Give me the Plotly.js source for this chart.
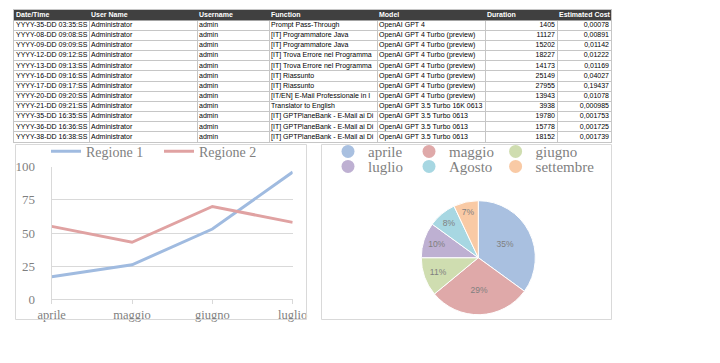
<!DOCTYPE html>
<html><head><meta charset="utf-8">
<script src="https://cdn.plot.ly/plotly-3.0.1.min.js"></script>
<style>html,body{margin:0;padding:0;background:#fff}#chart{width:720px;height:363px}</style>
</head><body><div id="chart"></div>
<script>
// ---------- table data ----------
const tableHeaders = ["Date/Time","User Name","Username","Function","Model","Duration","Estimated Cost"];
const dateTimes = ["YYYY-35-DD 03:35:SS","YYYY-08-DD 09:08:SS","YYYY-09-DD 09:09:SS","YYYY-12-DD 09:12:SS","YYYY-13-DD 09:13:SS","YYYY-16-DD 09:16:SS","YYYY-17-DD 09:17:SS","YYYY-20-DD 09:20:SS","YYYY-21-DD 09:21:SS","YYYY-35-DD 16:35:SS","YYYY-36-DD 16:36:SS","YYYY-38-DD 16:38:SS"];
const userNames = ["Administrator","Administrator","Administrator","Administrator","Administrator","Administrator","Administrator","Administrator","Administrator","Administrator","Administrator","Administrator"];
const usernames = ["admin","admin","admin","admin","admin","admin","admin","admin","admin","admin","admin","admin"];
const functionsCol = ["Prompt Pass-Through","[IT] Programmatore Java","[IT] Programmatore Java","[IT] Trova Errore nel Programma","[IT] Trova Errore nel Programma","[IT] Riassunto","[IT] Riassunto","[IT/EN] E-Mail Professionale in I","Translator to English","[IT] GPTPlaneBank - E-Mail ai Di","[IT] GPTPlaneBank - E-Mail ai Di","[IT] GPTPlaneBank - E-Mail ai Di"];
const models = ["OpenAI GPT 4","OpenAI GPT 4 Turbo (preview)","OpenAI GPT 4 Turbo (preview)","OpenAI GPT 4 Turbo (preview)","OpenAI GPT 4 Turbo (preview)","OpenAI GPT 4 Turbo (preview)","OpenAI GPT 4 Turbo (preview)","OpenAI GPT 4 Turbo (preview)","OpenAI GPT 3.5 Turbo 16K 0613","OpenAI GPT 3.5 Turbo 0613","OpenAI GPT 3.5 Turbo 0613","OpenAI GPT 3.5 Turbo 0613"];
const durations = [1405,11127,15202,18227,14173,25149,27955,13943,3938,19780,15778,18152];
const costs = [0.00078,0.00891,0.01142,0.01222,0.01169,0.04027,0.19437,0.01078,0.000985,0.001753,0.001725,0.001739];

// ---------- line chart data ----------
const months = ["aprile","maggio","giugno","luglio"];
const regione1 = [17,26,53,96];
const regione2 = [55,43,70,58];
const lineNames = ["Regione 1","Regione 2"];

// ---------- pie data ----------
const pieLabels = ["aprile","maggio","giugno","luglio","Agosto","settembre"];
const pieValues = [35,29,11,10,8,7];

// ---------- styles / layout helpers ----------
const W = 720, H = 363;
const px = v => v / W, py = v => 1 - v / H;
const colEdges = [14,89,197,269,377,485,557,611];
const rightAligned = [false,false,false,false,false,true,true];
const lineColors = ["#a0bbe0","#e0a2a2"];
const pieColors = ["#a9c0e0","#dfa9a9","#cfddb0","#beb0d2","#a7d7e2","#f9caa5"];
const sans = '"Liberation Sans", Arial, sans-serif';
const serif = '"Liberation Serif", "Times New Roman", serif';
const grey = '#7f7f7f';

const traces = [];
const rowIdx = dateTimes.map((_, i) => i + 1);
const columns = [dateTimes, userNames, usernames, functionsCol, models,
  durations.map(String), costs.map(v => String(v).replace('.', ','))];
columns.forEach((col, c) => {
  const ra = rightAligned[c];
  traces.push({
    type: 'scatter', mode: 'text', xaxis: 'x2', yaxis: 'y2',
    x: col.map(() => ra ? colEdges[c + 1] - 2 : colEdges[c] + 2),
    y: rowIdx, text: col,
    textposition: ra ? 'middle left' : 'middle right',
    textfont: {family: sans, size: 7, color: '#000'},
    hoverinfo: 'skip', showlegend: false, cliponaxis: false
  });
});
traces.push({
  type: 'scatter', mode: 'text', xaxis: 'x2', yaxis: 'y2',
  x: tableHeaders.map((_, c) => colEdges[c] + 2),
  y: tableHeaders.map(() => 0), text: tableHeaders,
  textposition: 'middle right',
  textfont: {family: sans, size: 7, color: '#fff', weight: 'bold'},
  hoverinfo: 'skip', showlegend: false, cliponaxis: false
});

// line chart
[regione1, regione2].forEach((ys, i) => {
  traces.push({
    type: 'scatter', mode: 'lines', x: months, y: ys, name: lineNames[i],
    line: {color: lineColors[i], width: 3}, xaxis: 'x', yaxis: 'y',
    legend: 'legend', cliponaxis: false, hoverinfo: 'skip'
  });
});

// pie
traces.push({
  type: 'pie', labels: pieLabels, values: pieValues, sort: false,
  direction: 'clockwise', rotation: 0,
  marker: {colors: pieColors, line: {color: '#fff', width: 1}},
  textinfo: 'percent', textposition: 'inside', insidetextorientation: 'horizontal',
  textfont: {family: sans, size: 8.5, color: grey},
  domain: {x: [px(421.3), px(535.3)], y: [py(314.7), py(200.7)]},
  showlegend: false, hoverinfo: 'skip'
});
// pie legend entries (circle markers)
const pieLegendWidths = [36, 41.6, 80];
pieLabels.forEach((lab, i) => {
  traces.push({
    type: 'scatter', mode: 'markers', x: [null], y: [null], name: lab,
    marker: {color: pieColors[i], size: 13, symbol: 'circle'},
    xaxis: 'x', yaxis: 'y',
    legend: i < 3 ? 'legend2' : 'legend3',
    legendwidth: pieLegendWidths[i % 3], hoverinfo: 'skip'
  });
});

const rowBounds = [];
for (let k = 0; k <= dateTimes.length + 1; k++) rowBounds.push(k - 0.5);

const layout = {
  width: W, height: H, margin: {l: 0, r: 0, t: 0, b: 0},
  paper_bgcolor: '#fff', plot_bgcolor: 'rgba(0,0,0,0)',
  showlegend: true,
  xaxis2: {domain: [px(14), px(611)], range: [14, 611], anchor: 'y2',
    tickvals: colEdges, showticklabels: false, ticks: '', showgrid: true,
    gridcolor: '#c6c6c6', gridwidth: 1, zeroline: false, showline: true, mirror: true,
    linecolor: '#c6c6c6', fixedrange: true},
  yaxis2: {domain: [py(142), py(10)], range: [dateTimes.length + 0.5, -0.5], anchor: 'x2',
    tickvals: rowBounds, showticklabels: false, ticks: '', showgrid: true,
    gridcolor: '#c6c6c6', gridwidth: 1, zeroline: false, showline: true, mirror: true,
    linecolor: '#c6c6c6', fixedrange: true},
  xaxis: {domain: [px(51.7), px(292.7)], range: [0, 3], type: 'category', anchor: 'y',
    showgrid: false, zeroline: false, showline: true, linecolor: '#d9d9d9',
    ticks: 'outside', ticklen: 4, tickcolor: '#d9d9d9',
    tickfont: {family: serif, size: 12.5, color: grey}},
  yaxis: {domain: [py(299.3), py(166.7)], range: [0, 100], anchor: 'x',
    tickvals: [0, 25, 50, 75, 100], showgrid: true, gridcolor: '#d9d9d9',
    zeroline: false, showline: true, linecolor: '#d9d9d9', ticks: '',
    ticklabelstandoff: 13, tickfont: {family: serif, size: 13, color: grey}},
  legend: {x: px(46), xanchor: 'left', y: py(151.7), yanchor: 'middle',
    orientation: 'h', entrywidth: 68, bgcolor: 'rgba(0,0,0,0)',
    font: {family: serif, size: 14, color: grey}},
  legend2: {x: px(328), xanchor: 'left', y: py(151.7), yanchor: 'middle',
    orientation: 'h', bgcolor: 'rgba(0,0,0,0)',
    font: {family: serif, size: 15, color: grey}},
  legend3: {x: px(328), xanchor: 'left', y: py(166.7), yanchor: 'middle',
    orientation: 'h', bgcolor: 'rgba(0,0,0,0)',
    font: {family: serif, size: 15, color: grey}},
  shapes: [
    {type: 'rect', xref: 'x2', yref: 'y2', x0: 14, x1: 611, y0: -0.5, y1: 0.5,
      fillcolor: '#404040', line: {width: 0}, layer: 'between'},
    {type: 'rect', xref: 'paper', yref: 'paper', x0: px(15.5), x1: px(306.5),
      y0: py(319.5), y1: py(144.5), line: {color: '#d9d9d9', width: 1}},
    {type: 'rect', xref: 'paper', yref: 'paper', x0: px(321.5), x1: px(611.5),
      y0: py(319.5), y1: py(144.5), line: {color: '#d9d9d9', width: 1}}
  ]
};

Plotly.newPlot('chart', traces, layout, {staticPlot: true, displayModeBar: false});
</script></body></html>
